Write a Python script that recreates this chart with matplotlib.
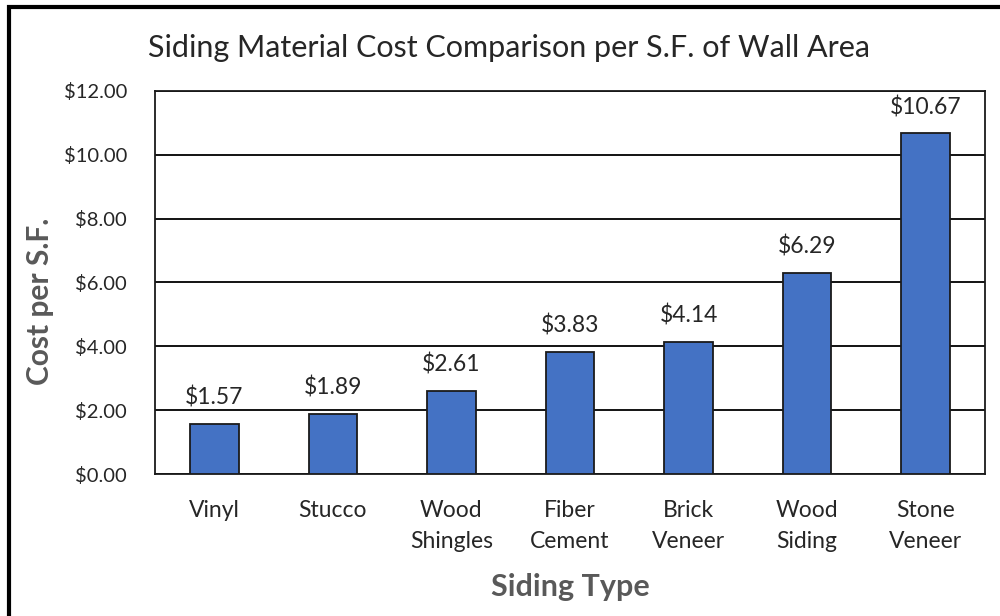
import matplotlib.pyplot as plt
from matplotlib.patches import Rectangle

plt.rcParams['font.family'] = ['Lato', 'DejaVu Sans']

# data
siding_types = ['Vinyl', 'Stucco', 'Wood\nShingles', 'Fiber\nCement',
                'Brick\nVeneer', 'Wood\nSiding', 'Stone\nVeneer']
cost_per_sf = [1.57, 1.89, 2.61, 3.83, 4.14, 6.29, 10.67]
y_ticks = [0, 2, 4, 6, 8, 10, 12]

bar_color = '#4472C4'
text_color = '#262626'
label_color = '#595959'

fig = plt.figure(figsize=(10, 6.16), dpi=100)
ax = fig.add_axes([0.155, 0.2305, 0.83, 0.6218])

x = range(len(siding_types))
bars = ax.bar(x, cost_per_sf, width=0.41, color=bar_color,
              edgecolor='#1a1a1a', linewidth=1.3, zorder=3)

for b, v in zip(bars, cost_per_sf):
    ax.annotate('${:.2f}'.format(v), (b.get_x() + b.get_width() / 2, v),
                xytext=(0, 11), textcoords='offset points',
                ha='center', va='bottom', fontsize=16.5, color=text_color)

ax.set_ylim(0, 12)
ax.set_xlim(-0.5, len(siding_types) - 0.5)
ax.set_yticks(y_ticks)
ax.set_yticklabels(['${:.2f}'.format(t) for t in y_ticks])
ax.set_xticks(list(x))
ax.set_xticklabels(siding_types, linespacing=1.55)
ax.tick_params(axis='y', length=0, pad=20, labelsize=14.5, labelcolor=text_color)
ax.tick_params(axis='x', length=0, pad=19, labelsize=16.5, labelcolor=text_color)
ax.grid(axis='y', color='black', linewidth=1.3, zorder=0)

for s in ax.spines.values():
    s.set_color('#1a1a1a')
    s.set_linewidth(1.3)

ax.set_xlabel('Siding Type', fontsize=22, fontweight='bold',
              color=label_color, labelpad=15)
ax.set_ylabel('Cost per S.F.', fontsize=21.5, fontweight='bold',
              color=label_color)
ax.yaxis.set_label_coords(-0.122, 0.45)
fig.text(0.509, 0.922, 'Siding Material Cost Comparison per S.F. of Wall Area',
         ha='center', va='center', fontsize=22, color=text_color)

# outer frame, only the left and top edges show in the picture
fig.patches.append(Rectangle((0.009, -0.1), 1.2, 0.1 + 0.9886,
                             transform=fig.transFigure, fill=False,
                             edgecolor='black', linewidth=3))

fig.savefig('out.png', dpi=100)
